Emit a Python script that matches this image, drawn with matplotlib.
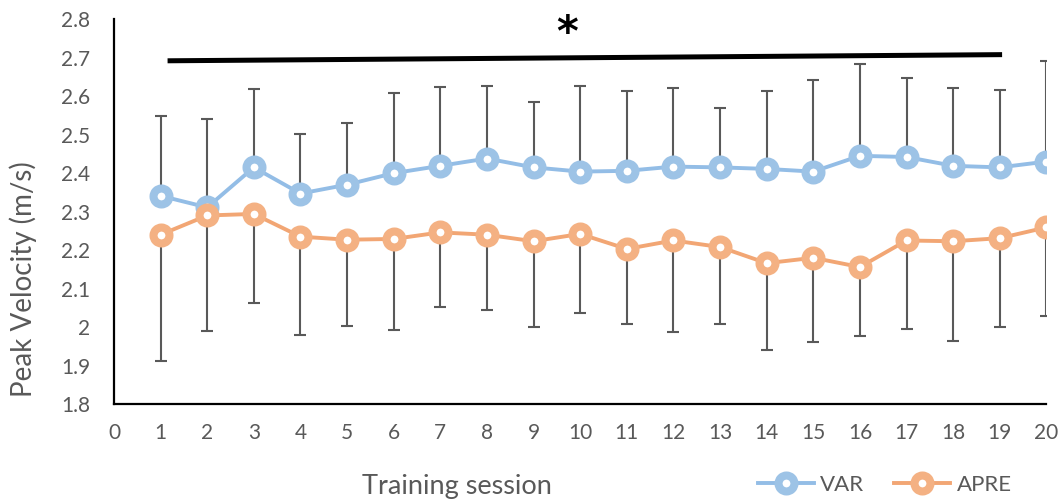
import matplotlib
matplotlib.use('Agg')
import matplotlib.pyplot as plt
import numpy as np

# data
sessions = np.arange(1, 21)
var_mean = [2.341, 2.311, 2.415, 2.347, 2.370, 2.400, 2.419, 2.438, 2.415, 2.404,
            2.406, 2.417, 2.415, 2.411, 2.404, 2.445, 2.442, 2.419, 2.415, 2.430]
var_upper = [2.549, 2.540, 2.619, 2.501, 2.531, 2.608, 2.624, 2.626, 2.586, 2.626,
             2.613, 2.620, 2.569, 2.613, 2.642, 2.684, 2.648, 2.620, 2.615, 2.691]
apre_mean = [2.240, 2.290, 2.294, 2.235, 2.227, 2.229, 2.246, 2.240, 2.223, 2.242,
             2.203, 2.225, 2.208, 2.166, 2.180, 2.156, 2.225, 2.223, 2.231, 2.259]
apre_lower = [1.912, 1.990, 2.063, 1.979, 2.003, 1.993, 2.051, 2.044, 1.999, 2.037,
              2.007, 1.987, 2.007, 1.941, 1.962, 1.976, 1.996, 1.963, 2.000, 2.029]
sig_x = [1.15, 19.05]
sig_y = [2.692, 2.708]
star_xy = (9.72, 2.762)
yticks = [1.8, 1.9, 2.0, 2.1, 2.2, 2.3, 2.4, 2.5, 2.6, 2.7, 2.8]
ytick_labels = ['1.8', '1.9', '2', '2.1', '2.2', '2.3', '2.4', '2.5', '2.6', '2.7', '2.8']

plt.rcParams['font.family'] = ['Lato', 'DejaVu Sans']
grey = '#595959'
blue = '#9DC3E6'
blue_line = '#93BDE6'
orange = '#F4B183'
orange_line = '#F2A674'

fig = plt.figure(figsize=(10.62, 5.01), dpi=100)
ax = fig.add_axes([0.1073, 0.1936, 0.878, 0.768])

var_mean_a = np.array(var_mean)
apre_mean_a = np.array(apre_mean)
zeros = np.zeros(len(sessions))

ax.errorbar(sessions, var_mean, yerr=[zeros, np.array(var_upper) - var_mean_a],
            fmt='none', ecolor=grey, elinewidth=1.5, capsize=4.3, capthick=1.5, zorder=2)
ax.errorbar(sessions, apre_mean, yerr=[apre_mean_a - np.array(apre_lower), zeros],
            fmt='none', ecolor=grey, elinewidth=1.5, capsize=4.3, capthick=1.5, zorder=2)

ax.plot(sessions, var_mean, color=blue_line, lw=2.8, marker='o', ms=11.5, mew=5.8,
        mec=blue, mfc='white', label='VAR', zorder=3)
ax.plot(sessions, apre_mean, color=orange_line, lw=2.8, marker='o', ms=11.5, mew=5.8,
        mec=orange, mfc='white', label='APRE', zorder=3)

ax.plot(sig_x, sig_y, color='black', lw=3.6, solid_capstyle='butt', zorder=4)
ax.text(star_xy[0], star_xy[1], '*', fontsize=30, fontweight='bold', ha='center',
        va='center', family='DejaVu Sans')

ax.set_xlim(0, 20)
ax.set_ylim(1.8, 2.8)
ax.set_xticks(range(0, 21))
ax.set_yticks(yticks)
ax.set_yticklabels(ytick_labels)
ax.tick_params(length=0, labelsize=15, labelcolor=grey)
ax.tick_params(axis='y', pad=17)
ax.tick_params(axis='x', pad=14)

for s in ['top', 'right']:
    ax.spines[s].set_visible(False)
for s in ['left', 'bottom']:
    ax.spines[s].set_linewidth(1.6)
    ax.spines[s].set_color('black')

ax.set_ylabel('Peak Velocity (m/s)', fontsize=20, color=grey)
ax.yaxis.set_label_coords(-0.082, 0.325)
ax.set_xlabel('Training session', fontsize=19.5, color=grey)
ax.xaxis.set_label_coords(0.368, -0.182)

fig.legend(loc='center left', bbox_to_anchor=(758 / 1062, 1 - 485 / 501), ncol=2,
           frameon=False, fontsize=16, labelcolor=grey, handlelength=2.5,
           columnspacing=1.35, handletextpad=0.3, borderpad=0, borderaxespad=0)

plt.savefig('out.png', dpi=100)
